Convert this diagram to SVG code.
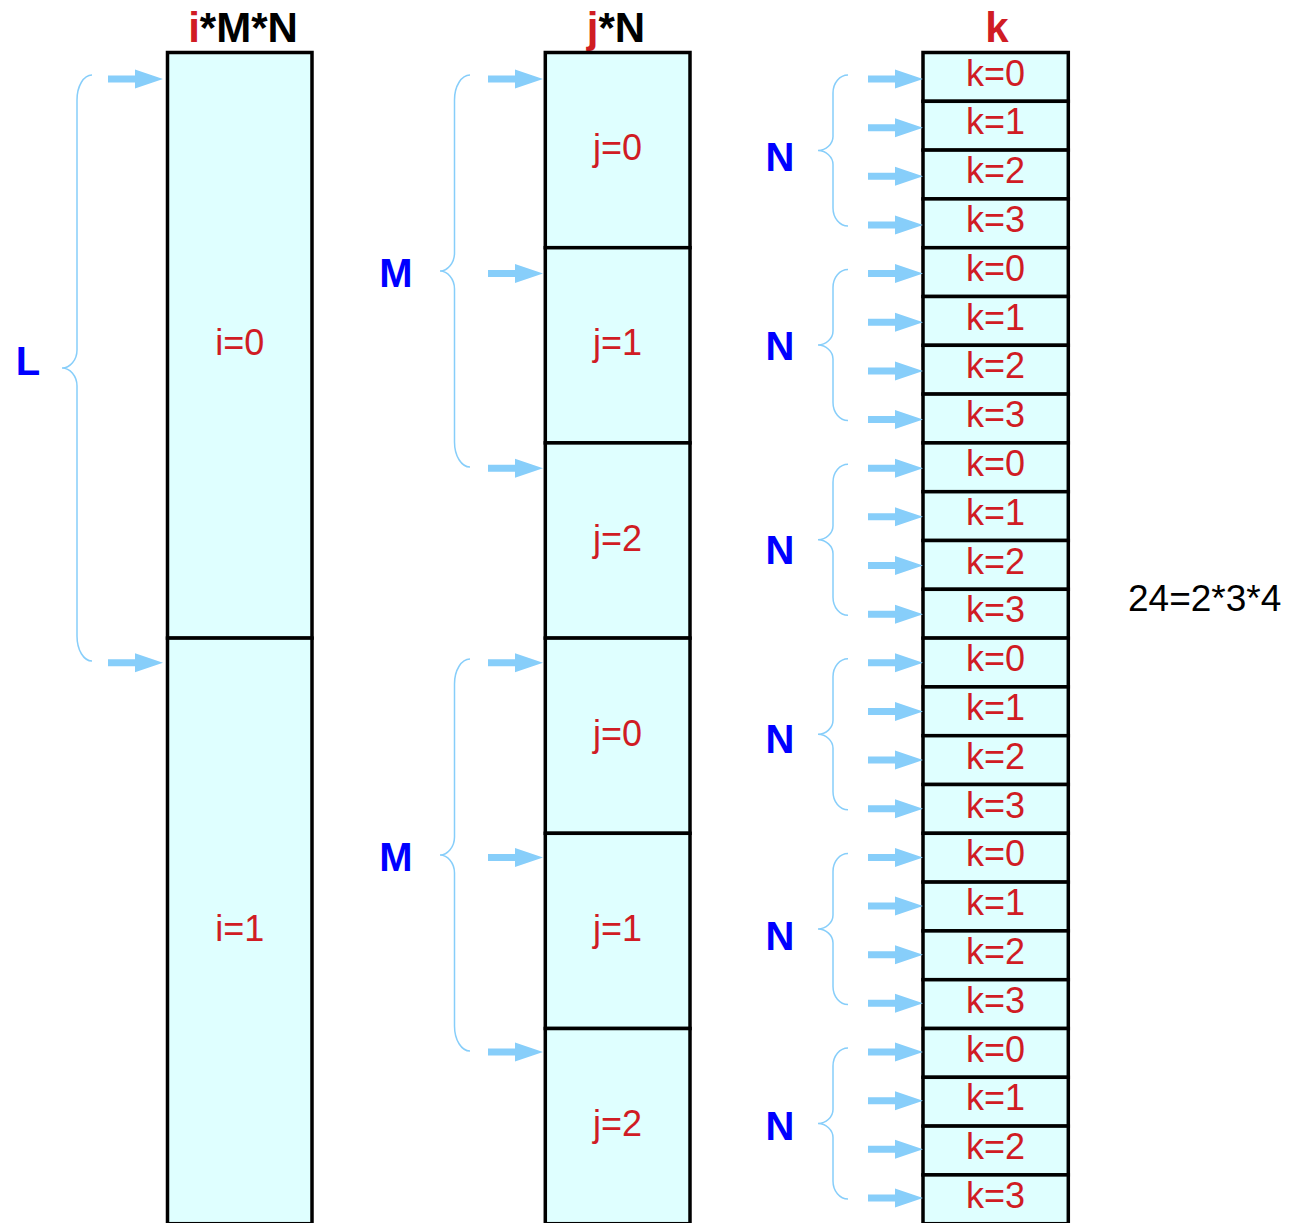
<svg xmlns="http://www.w3.org/2000/svg" xmlns:xlink="http://www.w3.org/1999/xlink" width="1298" height="1223" viewBox="0 0 1298 1223">
<style>
.blk{fill:#dfffff;stroke:#000;stroke-width:3.5}
.lbl{font-family:"Liberation Sans",Arial,sans-serif;font-size:36px;fill:#d01c24;text-anchor:middle}
.hdr{font-family:"Liberation Sans",Arial,sans-serif;font-size:42px;font-weight:bold;fill:#000;text-anchor:middle}
.red{fill:#d01c24}
.blue{font-family:"Liberation Sans",Arial,sans-serif;font-size:40px;font-weight:bold;fill:#0000ff;text-anchor:middle}
.br{fill:none;stroke:#87cefa;stroke-width:1.5}
.arr{fill:#87cefa}
.note{font-family:"Liberation Sans",Arial,sans-serif;font-size:37px;fill:#000}
</style>
<defs>
<path id="arr" class="arr" d="M0,-3.5 H27 V-9.5 L55,0 L27,9.5 V3.5 H0 Z"/>
</defs>
<rect width="1298" height="1223" fill="#fff"/>

<g id="headers">
<text class="hdr" x="243" y="42"><tspan class="red">i</tspan>*M*N</text>
<text class="hdr" x="616" y="42"><tspan class="red">j</tspan>*N</text>
<text class="hdr" x="997" y="42"><tspan class="red">k</tspan></text>
</g>

<g id="col-i">
<g id="i0"><rect class="blk" x="167.5" y="52.5" width="144.5" height="585.6"/><text class="lbl" x="239.7" y="355.3">i=0</text></g>
<g id="i1"><rect class="blk" x="167.5" y="638.1" width="144.5" height="585.6"/><text class="lbl" x="239.7" y="941">i=1</text></g>
</g>

<g id="col-j">
<g id="j0a"><rect class="blk" x="545.3" y="52.5" width="144.7" height="195.2"/><text class="lbl" x="617.6" y="160">j=0</text></g>
<g id="j1a"><rect class="blk" x="545.3" y="247.7" width="144.7" height="195.2"/><text class="lbl" x="617.6" y="355.3">j=1</text></g>
<g id="j2a"><rect class="blk" x="545.3" y="442.9" width="144.7" height="195.2"/><text class="lbl" x="617.6" y="550.5">j=2</text></g>
<g id="j0b"><rect class="blk" x="545.3" y="638.1" width="144.7" height="195.2"/><text class="lbl" x="617.6" y="745.7">j=0</text></g>
<g id="j1b"><rect class="blk" x="545.3" y="833.3" width="144.7" height="195.2"/><text class="lbl" x="617.6" y="940.9">j=1</text></g>
<g id="j2b"><rect class="blk" x="545.3" y="1028.5" width="144.7" height="195.2"/><text class="lbl" x="617.6" y="1136.1">j=2</text></g>
</g>

<g id="col-k">
<g id="k00"><rect class="blk" x="923" y="52.5" width="145.3" height="48.8"/><text class="lbl" x="995.6" y="85.5">k=0</text></g>
<g id="k01"><rect class="blk" x="923" y="101.3" width="145.3" height="48.8"/><text class="lbl" x="995.6" y="134.3">k=1</text></g>
<g id="k02"><rect class="blk" x="923" y="150.1" width="145.3" height="48.8"/><text class="lbl" x="995.6" y="183.1">k=2</text></g>
<g id="k03"><rect class="blk" x="923" y="198.9" width="145.3" height="48.8"/><text class="lbl" x="995.6" y="231.9">k=3</text></g>
<g id="k04"><rect class="blk" x="923" y="247.7" width="145.3" height="48.8"/><text class="lbl" x="995.6" y="280.7">k=0</text></g>
<g id="k05"><rect class="blk" x="923" y="296.5" width="145.3" height="48.8"/><text class="lbl" x="995.6" y="329.5">k=1</text></g>
<g id="k06"><rect class="blk" x="923" y="345.3" width="145.3" height="48.8"/><text class="lbl" x="995.6" y="378.3">k=2</text></g>
<g id="k07"><rect class="blk" x="923" y="394.1" width="145.3" height="48.8"/><text class="lbl" x="995.6" y="427.1">k=3</text></g>
<g id="k08"><rect class="blk" x="923" y="442.9" width="145.3" height="48.8"/><text class="lbl" x="995.6" y="475.9">k=0</text></g>
<g id="k09"><rect class="blk" x="923" y="491.7" width="145.3" height="48.8"/><text class="lbl" x="995.6" y="524.7">k=1</text></g>
<g id="k10"><rect class="blk" x="923" y="540.5" width="145.3" height="48.8"/><text class="lbl" x="995.6" y="573.5">k=2</text></g>
<g id="k11"><rect class="blk" x="923" y="589.3" width="145.3" height="48.8"/><text class="lbl" x="995.6" y="622.3">k=3</text></g>
<g id="k12"><rect class="blk" x="923" y="638.1" width="145.3" height="48.8"/><text class="lbl" x="995.6" y="671.1">k=0</text></g>
<g id="k13"><rect class="blk" x="923" y="686.9" width="145.3" height="48.8"/><text class="lbl" x="995.6" y="719.9">k=1</text></g>
<g id="k14"><rect class="blk" x="923" y="735.7" width="145.3" height="48.8"/><text class="lbl" x="995.6" y="768.7">k=2</text></g>
<g id="k15"><rect class="blk" x="923" y="784.5" width="145.3" height="48.8"/><text class="lbl" x="995.6" y="817.5">k=3</text></g>
<g id="k16"><rect class="blk" x="923" y="833.3" width="145.3" height="48.8"/><text class="lbl" x="995.6" y="866.3">k=0</text></g>
<g id="k17"><rect class="blk" x="923" y="882.1" width="145.3" height="48.8"/><text class="lbl" x="995.6" y="915.1">k=1</text></g>
<g id="k18"><rect class="blk" x="923" y="930.9" width="145.3" height="48.8"/><text class="lbl" x="995.6" y="963.9">k=2</text></g>
<g id="k19"><rect class="blk" x="923" y="979.7" width="145.3" height="48.8"/><text class="lbl" x="995.6" y="1012.7">k=3</text></g>
<g id="k20"><rect class="blk" x="923" y="1028.5" width="145.3" height="48.8"/><text class="lbl" x="995.6" y="1061.5">k=0</text></g>
<g id="k21"><rect class="blk" x="923" y="1077.3" width="145.3" height="48.8"/><text class="lbl" x="995.6" y="1110.3">k=1</text></g>
<g id="k22"><rect class="blk" x="923" y="1126.1" width="145.3" height="48.8"/><text class="lbl" x="995.6" y="1159.1">k=2</text></g>
<g id="k23"><rect class="blk" x="923" y="1174.9" width="145.3" height="48.8"/><text class="lbl" x="995.6" y="1207.9">k=3</text></g>
</g>

<g id="connectors">
<use href="#arr" x="108" y="79"/>
<use href="#arr" x="108" y="662.8"/>
<use href="#arr" x="488" y="79"/>
<use href="#arr" x="488" y="273.6"/>
<use href="#arr" x="488" y="468.2"/>
<use href="#arr" x="488" y="662.8"/>
<use href="#arr" x="488" y="857.4"/>
<use href="#arr" x="488" y="1052"/>
<use href="#arr" x="868" y="79"/>
<use href="#arr" x="868" y="127.65"/>
<use href="#arr" x="868" y="176.3"/>
<use href="#arr" x="868" y="224.95"/>
<use href="#arr" x="868" y="273.6"/>
<use href="#arr" x="868" y="322.25"/>
<use href="#arr" x="868" y="370.9"/>
<use href="#arr" x="868" y="419.55"/>
<use href="#arr" x="868" y="468.2"/>
<use href="#arr" x="868" y="516.85"/>
<use href="#arr" x="868" y="565.5"/>
<use href="#arr" x="868" y="614.15"/>
<use href="#arr" x="868" y="662.8"/>
<use href="#arr" x="868" y="711.45"/>
<use href="#arr" x="868" y="760.1"/>
<use href="#arr" x="868" y="808.75"/>
<use href="#arr" x="868" y="857.4"/>
<use href="#arr" x="868" y="906.05"/>
<use href="#arr" x="868" y="954.7"/>
<use href="#arr" x="868" y="1003.35"/>
<use href="#arr" x="868" y="1052"/>
<use href="#arr" x="868" y="1100.65"/>
<use href="#arr" x="868" y="1149.3"/>
<use href="#arr" x="868" y="1197.95"/>
</g>

<g id="braces">
<path class="br" d="M92,75 C83.7,75 77,86 77,100 L77,350 C77,360 70,368 62,368 C70,368 77,376 77,386 L77,636 C77,650 83.7,661 92,661"/>
<path class="br" d="M470,75 C461.5,75 454.5,86 454.5,100 L454.5,253 C454.5,263 447.5,271 440,271 C447.5,271 454.5,279 454.5,289 L454.5,442 C454.5,456 461.5,467 470,467"/>
<path class="br" d="M470,659 C461.5,659 454.5,670 454.5,684 L454.5,837 C454.5,847 447.5,855 440,855 C447.5,855 454.5,863 454.5,873 L454.5,1026 C454.5,1040 461.5,1051 470,1051"/>
<path class="br" d="M848,75 C839.7,75 833,83 833,93 L833,136.5 C833,144 826,150.5 818,150.5 C826,150.5 833,157 833,164.5 L833,208 C833,218 839.7,226 848,226"/>
<path class="br" d="M848,269.6 C839.7,269.6 833,277.6 833,287.6 L833,331 C833,338.5 826,345 818,345 C826,345 833,351.5 833,359 L833,402.5 C833,412.5 839.7,420.5 848,420.5"/>
<path class="br" d="M848,464.2 C839.7,464.2 833,472.2 833,482.2 L833,525.7 C833,533.2 826,539.7 818,539.7 C826,539.7 833,546.2 833,553.7 L833,597.2 C833,607.2 839.7,615.2 848,615.2"/>
<path class="br" d="M848,658.8 C839.7,658.8 833,666.8 833,676.8 L833,720.3 C833,727.8 826,734.3 818,734.3 C826,734.3 833,740.8 833,748.3 L833,791.8 C833,801.8 839.7,809.8 848,809.8"/>
<path class="br" d="M848,853.4 C839.7,853.4 833,861.4 833,871.4 L833,914.9 C833,922.4 826,928.9 818,928.9 C826,928.9 833,935.4 833,942.9 L833,986.4 C833,996.4 839.7,1004.4 848,1004.4"/>
<path class="br" d="M848,1048 C839.7,1048 833,1056 833,1066 L833,1109.5 C833,1117 826,1123.5 818,1123.5 C826,1123.5 833,1130 833,1137.5 L833,1181 C833,1191 839.7,1199 848,1199"/>
</g>

<g id="brace-labels">
<text class="blue" x="28" y="375">L</text>
<text class="blue" x="396" y="287">M</text>
<text class="blue" x="396" y="871">M</text>
<text class="blue" x="780" y="171">N</text>
<text class="blue" x="780" y="360">N</text>
<text class="blue" x="780" y="564">N</text>
<text class="blue" x="780" y="753">N</text>
<text class="blue" x="780" y="950">N</text>
<text class="blue" x="780" y="1140">N</text>
</g>

<text class="note" x="1128" y="611">24=2*3*4</text>
</svg>
